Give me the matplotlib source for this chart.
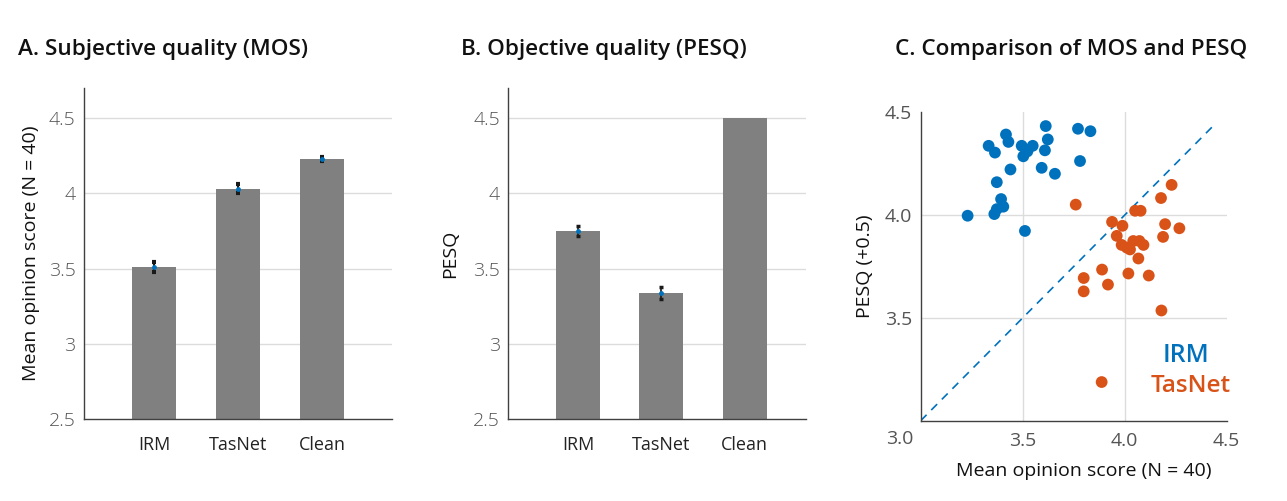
import matplotlib
matplotlib.use("Agg")
import matplotlib.pyplot as plt
import numpy as np

plt.rcParams['font.family'] = ['Open Sans', 'DejaVu Sans']

# ---------------- data ----------------
categories = ["IRM", "TasNet", "Clean"]
mos_values = [3.51, 4.03, 4.23]
mos_errors = [0.035, 0.03, 0.015]
pesq_values = [3.75, 3.34, 4.50]
pesq_errors = [0.035, 0.04, 0.0]

irm_mos = [3.230, 3.361, 3.373, 3.394, 3.405, 3.373, 3.440, 3.333, 3.364, 3.418,
           3.430, 3.495, 3.503, 3.523, 3.549, 3.511, 3.593, 3.658, 3.613, 3.623,
           3.609, 3.771, 3.832, 3.781]
irm_pesq = [3.997, 4.005, 4.029, 4.078, 4.041, 4.160, 4.222, 4.337, 4.304, 4.392,
            4.356, 4.337, 4.286, 4.310, 4.337, 3.923, 4.230, 4.201, 4.433, 4.368,
            4.315, 4.420, 4.408, 4.263]
tas_mos = [3.760, 3.938, 3.989, 3.961, 3.985, 4.010, 4.026, 4.051, 4.078, 4.042,
           4.072, 4.092, 4.067, 4.178, 4.230, 4.198, 4.268, 4.188, 3.889, 4.018,
           4.118, 3.799, 3.799, 3.918, 4.180, 3.887]
tas_pesq = [4.051, 3.967, 3.948, 3.899, 3.855, 3.842, 3.833, 4.021, 4.021, 3.874,
            3.874, 3.855, 3.789, 4.083, 4.147, 3.956, 3.936, 3.894, 3.735, 3.716,
            3.706, 3.694, 3.629, 3.662, 3.536, 3.188]

bar_yticks = [2.5, 3, 3.5, 4, 4.5]
bar_yticklabels = ["2.5", "3", "3.5", "4", "4.5"]
sc_ticks = [3.5, 4.0, 4.5]
sc_ticklabels = ["3.5", "4.0", "4.5"]

BLUE = "#0072BD"
ORANGE = "#D95319"
BAR = "#808080"
SPINE = "#404040"
GRID = "#dcdcdc"
TICKC = "#555555"

W, H = 1287, 501
fig = plt.figure(figsize=(W / 100, H / 100), dpi=100)

def fr(l, t, r, b):
    return [l / W, 1 - b / H, (r - l) / W, (b - t) / H]

def style_bar_axes(ax, xlim):
    ax.set_xlim(*xlim)
    ax.set_ylim(2.5, 4.7)
    ax.set_yticks(bar_yticks)
    ax.set_yticklabels(bar_yticklabels)
    ax.set_xticks([1, 2, 3])
    ax.set_xticklabels(categories)
    for s in ["top", "right"]:
        ax.spines[s].set_visible(False)
    for s in ["left", "bottom"]:
        ax.spines[s].set_color(SPINE)
        ax.spines[s].set_linewidth(1.0)
    ax.tick_params(axis="both", length=0)
    ax.tick_params(axis="y", labelsize=14, labelcolor=TICKC, pad=6)
    ax.tick_params(axis="x", labelsize=13, labelcolor="#222222", pad=12)
    for t in ax.get_yticklabels():
        t.set_fontweight("light")
    for y in bar_yticks[1:]:
        ax.axhline(y, color=GRID, lw=1.0, zorder=0)
    ax.set_axisbelow(True)

xpos = np.arange(1, len(categories) + 1)

# Panel A
axA = fig.add_axes(fr(84, 88, 392, 419.3))
axA.bar(xpos, mos_values, width=0.53, color=BAR, zorder=2)
axA.errorbar(xpos, mos_values, yerr=mos_errors, fmt="none", ecolor="#1a1a1a",
             elinewidth=1.5, capsize=1.6, capthick=3, zorder=3)
axA.plot(xpos, mos_values, "o", color=BLUE, ms=2.5, zorder=4)
style_bar_axes(axA, (0.163, 3.836))
axA.set_ylabel("Mean opinion score (N = 40)", fontsize=14, color="#111111", labelpad=6)

# Panel B
axB = fig.add_axes(fr(508.3, 88, 805.7, 419.3))
axB.bar(xpos, pesq_values, width=0.53, color=BAR, zorder=2)
idx = [i for i, e in enumerate(pesq_errors) if e > 0]
axB.errorbar(xpos[idx], np.array(pesq_values)[idx], yerr=np.array(pesq_errors)[idx],
             fmt="none", ecolor="#1a1a1a", elinewidth=1.2, capsize=1.2, capthick=2.5, zorder=3)
axB.plot(xpos[idx], np.array(pesq_values)[idx], "o", color=BLUE, ms=2.5, zorder=4)
style_bar_axes(axB, (0.165, 3.73))
axB.set_ylabel("PESQ", fontsize=14, color="#111111", labelpad=10)

# Panel C
axC = fig.add_axes(fr(920.7, 112.3, 1226.7, 420.7))
axC.set_xlim(3.0, 4.5)
axC.set_ylim(3.0, 4.5)
for v in [3.5, 4.0]:
    axC.axvline(v, color=GRID, lw=1.0, zorder=0)
    axC.axhline(v, color=GRID, lw=1.0, zorder=0)
axC.plot([3.0, 4.45], [3.0, 4.45], "--", color=BLUE, lw=1.2, dashes=(5, 4), zorder=1)
axC.scatter(irm_mos, irm_pesq, s=72, color=BLUE, edgecolors="none", zorder=3)
axC.scatter(tas_mos, tas_pesq, s=72, color=ORANGE, edgecolors="none", zorder=3)
axC.set_xticks(sc_ticks)
axC.set_xticklabels(sc_ticklabels)
axC.set_yticks(sc_ticks)
axC.set_yticklabels(sc_ticklabels)
for s in ["top", "right"]:
    axC.spines[s].set_visible(False)
for s in ["left", "bottom"]:
    axC.spines[s].set_color(SPINE)
    axC.spines[s].set_linewidth(1.0)
axC.tick_params(axis="both", length=0, labelsize=14, labelcolor=TICKC)
axC.tick_params(axis="x", pad=8)
axC.tick_params(axis="y", pad=6)
axC.text(-0.07, -0.058, "3.0", transform=axC.transAxes, ha="center", va="center",
         fontsize=14, color=TICKC)
axC.set_xlabel("Mean opinion score (N = 40)", fontsize=14, color="#111111")
axC.xaxis.set_label_coords(0.534, -0.135)
axC.set_ylabel("PESQ (+0.5)", fontsize=14, color="#111111", labelpad=8)
axC.text(0.942, 0.21, "IRM", transform=axC.transAxes, ha="right", va="center",
         fontsize=18, fontweight="semibold", color=BLUE)
axC.text(1.014, 0.1125, "TasNet", transform=axC.transAxes, ha="right", va="center",
         fontsize=17.5, fontweight="semibold", color=ORANGE)

# Titles
fig.text(18 / W, 1 - 50 / H, "A. Subjective quality (MOS)", fontsize=16.2,
         fontweight="semibold", ha="left", va="center", color="#111111")
fig.text(461 / W, 1 - 50 / H, "B. Objective quality (PESQ)", fontsize=16.2,
         fontweight="semibold", ha="left", va="center", color="#111111")
fig.text(895 / W, 1 - 50 / H, "C. Comparison of MOS and PESQ", fontsize=16.2,
         fontweight="semibold", ha="left", va="center", color="#111111")

fig.savefig("out.png", dpi=100, facecolor="white")
